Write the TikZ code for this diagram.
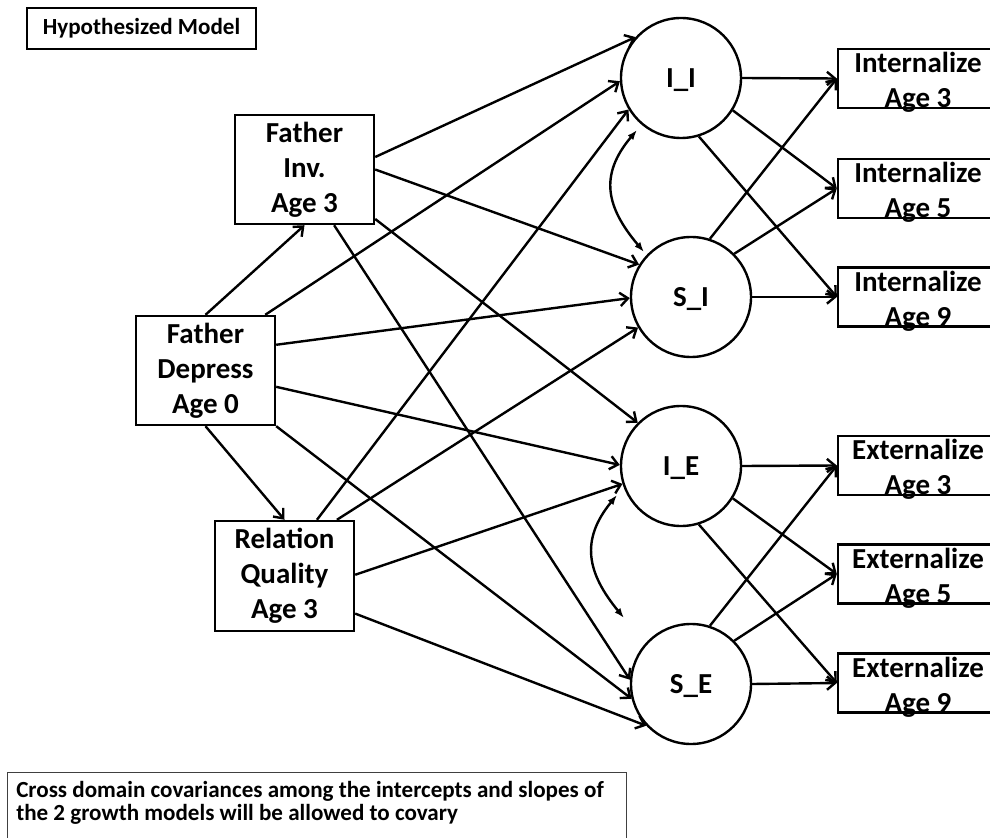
\documentclass[tikz,border=0pt]{standalone}
\usepackage{fontspec}
\setmainfont{Carlito}
\usetikzlibrary{arrows.meta}
\newcommand\fbig{\fontsize{21.75}{26.25}\selectfont\bfseries}
\newcommand\fsmall{\fontsize{17.3}{17.4}\selectfont\bfseries}
\begin{document}
\begin{tikzpicture}[x=0.75pt,y=-0.75pt,
  hmbox/.style={draw, line width=1.8pt, minimum width=171.75pt, minimum height=30.75pt, font=\fsmall, inner sep=0pt},
  lbox/.style={draw, line width=1.8pt, minimum width=104.25pt, minimum height=81.75pt, align=center, font=\fbig, inner sep=0pt},
  lat/.style={draw, circle, line width=1.8pt, minimum size=90pt, inner sep=0pt, font=\fbig, text depth=0pt},
  rbox/.style={draw, line width=1.8pt, minimum width=120pt, minimum height=44.25pt, inner sep=0pt},
  rtext/.style={align=center, font=\fbig, inner sep=0pt},
  notebox/.style={draw=black!75, line width=0.9pt, minimum width=464.25pt, minimum height=60pt, inner sep=0pt},
  notetext/.style={align=left, font=\fsmall, inner sep=0pt},
  arr/.style={line width=1.8pt, -{Straight Barb[length=6pt,width=10pt]}},
  cov/.style={line width=1.8pt, {Latex[length=7.5pt,width=5.5pt]}-{Latex[length=7.5pt,width=5.5pt]}}
]
\path[use as bounding box] (0,0) rectangle (990,838);
\clip (0,0) rectangle (990,838);

\node[hmbox] (hm) at (141.5,28.5) {Hypothesized Model};

\node[lbox] (FI) at (304.5,169.5) {Father\\Inv.\\Age 3};
\node[lbox] (FD) at (205.5,370.5) {Father\\Depress\\Age 0};
\node[lbox, minimum height=82.5pt] (RQ) at (284.5,576) {Relation\\Quality\\Age 3};

\node[lat] (II) at (681,78) {I\_I};
\node[lat] (SI) at (691,297) {S\_I};
\node[lat] (IE) at (681,466) {I\_E};
\node[lat] (SE) at (691,684) {S\_E};

\node[rbox] (I3) at (918,78.5) {};
\node[rtext] (I3t) at (918,82.5) {Internalize\\Age 3};
\node[rbox] (I5) at (918,188.5) {};
\node[rtext] (I5t) at (918,192.5) {Internalize\\Age 5};
\node[rbox] (I9) at (918,297) {};
\node[rtext] (I9t) at (918,301) {Internalize\\Age 9};
\node[rbox] (E3) at (918,465.5) {};
\node[rtext] (E3t) at (918,469.5) {Externalize\\Age 3};
\node[rbox] (E5) at (918,574) {};
\node[rtext] (E5t) at (918,578) {Externalize\\Age 5};
\node[rbox] (E9) at (918,683) {};
\node[rtext] (E9t) at (918,687) {Externalize\\Age 9};

\node[notebox, anchor=north west] (note) at (7,772) {};
\node[notetext, anchor=north west] (notet) at (16,781) {Cross domain covariances among the intercepts and slopes of\\the 2 growth models will be allowed to covary};

% predictors
\draw[arr] (FD.north) -- (FI.south);
\draw[arr] (FD.south) -- (RQ.north);

\draw[arr] (FI.10) -- (II.138);
\draw[arr] (FI.east) -- (SI.148);
\draw[arr] (FI.-35) -- (IE.135);
\draw[arr] (FI.-62) -- (SE.176);

\draw[arr] (FD.43) -- (II.183);
\draw[arr] (FD.20) -- (SI.181);
\draw[arr] (FD.-13) -- (IE.179);
\draw[arr] (FD.south east) -- (SE.194);

\draw[arr] (RQ.60) -- (II.211);
\draw[arr] (RQ.47) -- (SI.210);
\draw[arr] (RQ.1) -- (IE.197);
\draw[arr] (RQ.-28) -- (SE.223);

% growth factors to indicators
\draw[arr] (II.east) -- (I3.west);
\draw[arr] (II.-32) -- (I5.west);
\draw[arr] (II.-73) -- (I9.west);
\draw[arr] (SI.72) -- (I3.west);
\draw[arr] (SI.45) -- (I5.west);
\draw[arr] (SI.east) -- (I9.west);

\draw[arr] (IE.east) -- (E3.west);
\draw[arr] (IE.-32) -- (E5.west);
\draw[arr] (IE.-73) -- (E9.west);
\draw[arr] (SE.72) -- (E3.west);
\draw[arr] (SE.45) -- (E5.west);
\draw[arr] (SE.east) -- (E9.west);

% covariances
\coordinate (cIa) at (637,130);
\coordinate (cIb) at (644,252);
\draw[cov] (cIa) .. controls +(-38,45) and +(-38,-45) .. (cIb);
\coordinate (cEa) at (617,495);
\coordinate (cEb) at (624,618);
\draw[cov] (cEa) .. controls +(-37,45) and +(-37,-45) .. (cEb);
\end{tikzpicture}
\end{document}
